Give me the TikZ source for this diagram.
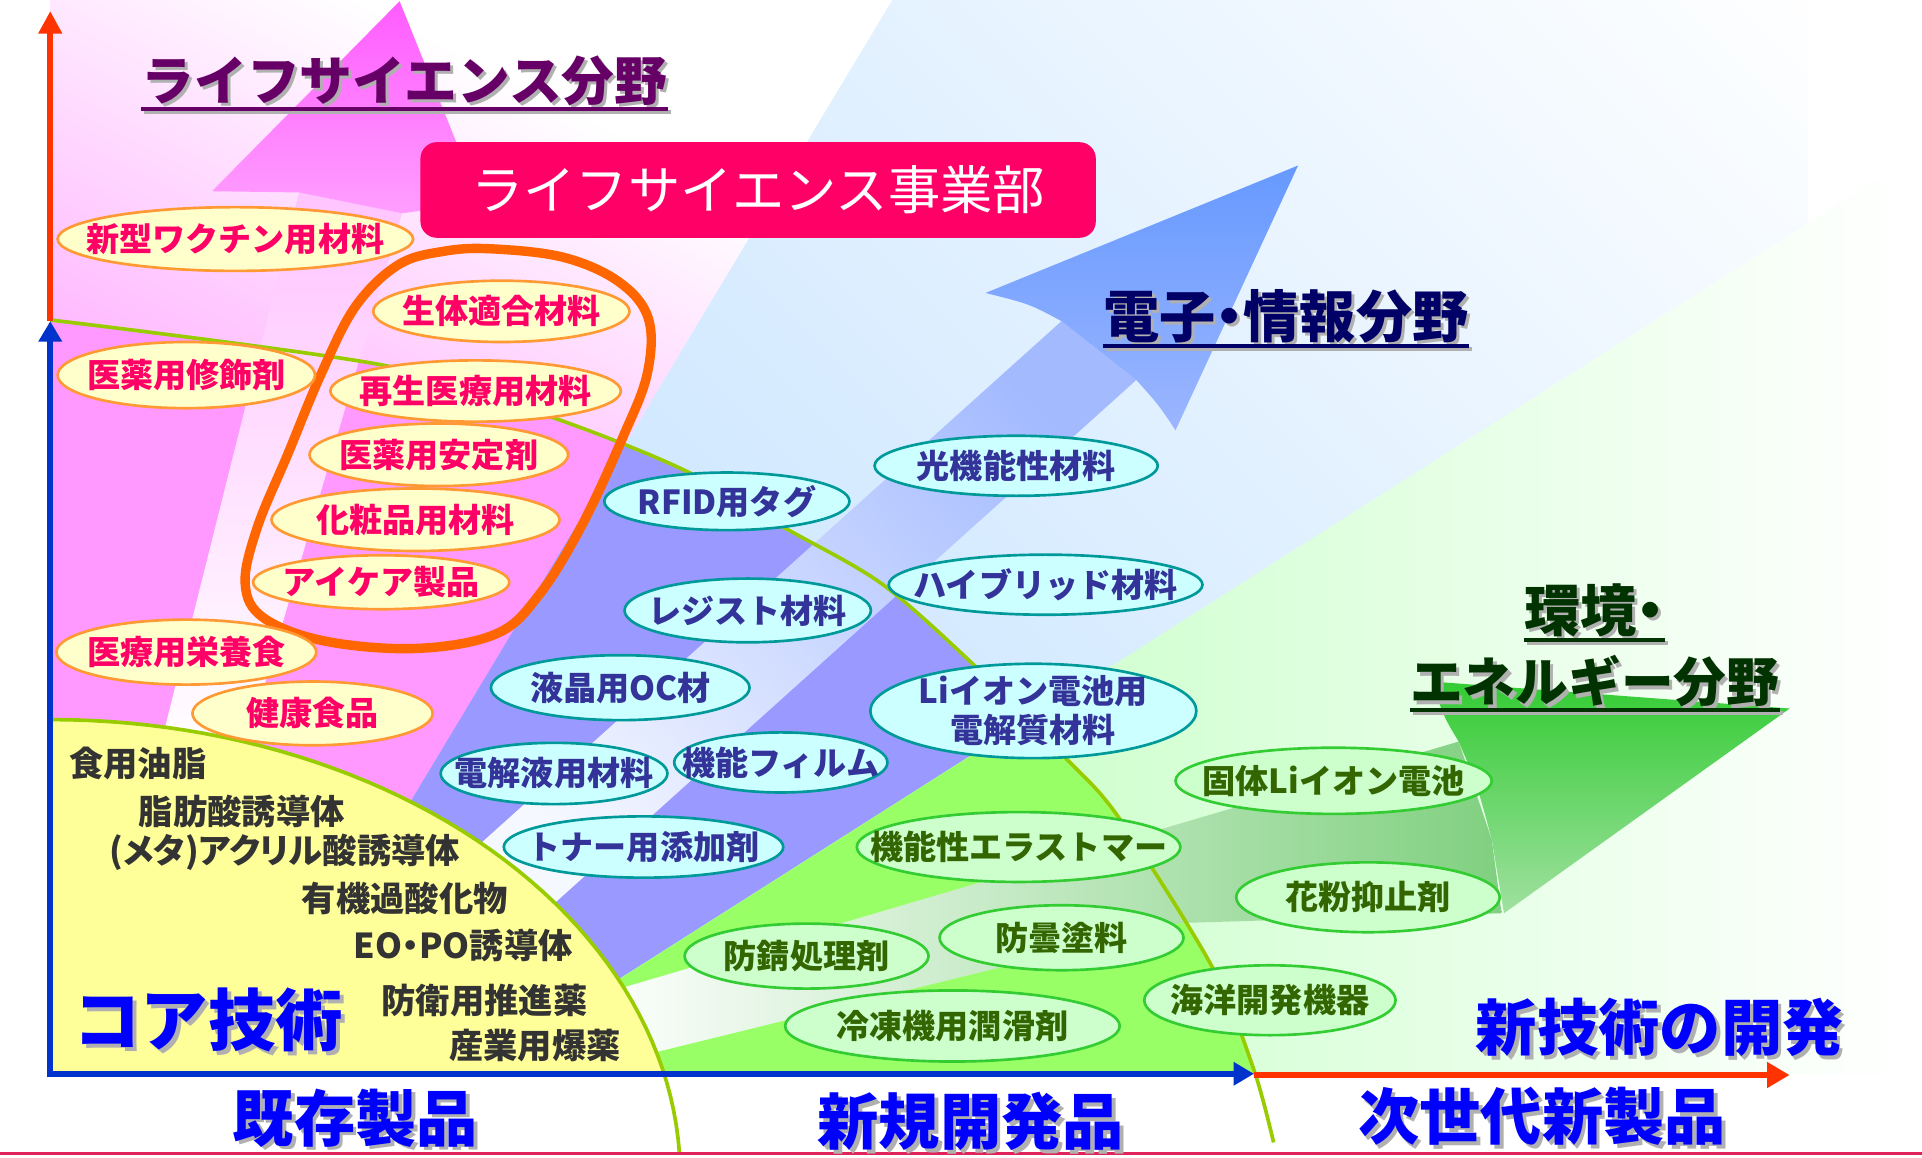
\documentclass[tikz,border=0pt]{standalone}
\usepackage{fontspec}
\setmainfont{Noto Sans CJK JP}
\newfontfamily\jpp{Noto Sans CJK JP}[RawFeature=+palt]
\usetikzlibrary{shapes.geometric,arrows.meta}
\definecolor{pinkbg}{HTML}{FFA8FF}
\definecolor{bluebg}{HTML}{CCE6FF}
\definecolor{greenbg}{HTML}{CCFFCC}
\definecolor{magz}{HTML}{FF99FF}
\definecolor{periz}{HTML}{9999FF}
\definecolor{grnz}{HTML}{99FF66}
\definecolor{corey}{HTML}{FFFF99}
\definecolor{curveg}{HTML}{99CC00}
\definecolor{axred}{HTML}{FF3300}
\definecolor{axblue}{HTML}{0033CC}
\definecolor{boxred}{HTML}{FF0066}
\definecolor{loopor}{HTML}{FF6600}
\definecolor{ptext}{HTML}{FF0066}
\definecolor{pfill}{HTML}{FFFFCC}
\definecolor{pdraw}{HTML}{FF9933}
\definecolor{btext}{HTML}{333399}
\definecolor{bfill}{HTML}{CCFFFF}
\definecolor{bdraw}{HTML}{009999}
\definecolor{gtext}{HTML}{336600}
\definecolor{gfill}{HTML}{CCFFCC}
\definecolor{gdraw}{HTML}{33CC33}
\definecolor{coretext}{HTML}{333333}
\definecolor{purp}{HTML}{660066}
\definecolor{navy}{HTML}{000066}
\definecolor{dgreen}{HTML}{003300}
\definecolor{lblue}{HTML}{0000FF}
\definecolor{shad}{HTML}{B0B0B0}
\definecolor{baseln}{HTML}{E0245A}
\definecolor{pheadtop}{HTML}{FF5CFF}
\definecolor{pheadbot}{HTML}{FF9EFF}
\definecolor{pshaft}{HTML}{FFC4FF}
\definecolor{bheadtop}{HTML}{6699FF}
\definecolor{bheadbot}{HTML}{9CB6FF}
\definecolor{bshaft}{HTML}{A3BAFF}
\definecolor{bshaftlo}{HTML}{F6F8FF}
\definecolor{gheadtop}{HTML}{33CC33}
\definecolor{gheadbot}{HTML}{A0E0A0}
\definecolor{gshaft}{HTML}{80D080}
\pgfdeclarehorizontalshading{pinkh}{100bp}{color(0bp)=(pinkbg); color(45bp)=(pinkbg); color(55bp)=(white); color(100bp)=(white)}
\pgfdeclarehorizontalshading{blueh}{100bp}{color(0bp)=(bluebg); color(45bp)=(bluebg); color(55bp)=(white); color(100bp)=(white)}
\tikzset{
  sz/.style 2 args={minimum width=#1*0.6pt, minimum height=#2*0.6pt},
  oval/.style={ellipse, inner sep=0pt, line width=1.3pt},
  pov/.style={oval, draw=pdraw, fill=pfill},
  bov/.style={oval, draw=bdraw, fill=bfill},
  gov/.style={oval, draw=gdraw, fill=gfill},
  lab/.style={inner sep=0pt, font=\bfseries\fontsize{16.2}{19.2}\selectfont},
  plab/.style={lab, text=ptext},
  blab/.style={lab, text=btext},
  glab/.style={lab, text=gtext},
  coretx/.style={inner sep=0pt, anchor=west, text=coretext, font=\bfseries\fontsize{16.8}{20}\selectfont},
  coretxp/.style={coretx, font=\jpp\bfseries\fontsize{16.8}{20}\selectfont},
  ttl/.style={inner sep=0pt, font=\bfseries\fontsize{25.8}{30}\selectfont},
  ttlp/.style={inner sep=0pt, font=\jpp\bfseries\fontsize{27.5}{30}\selectfont},
  axlab/.style={inner sep=0pt, font=\bfseries\fontsize{30}{34}\selectfont},
  axisline/.style={line width=3pt},
  bndry/.style={curveg, line width=1.8pt},
}
\begin{document}
\begin{tikzpicture}[x=0.6pt,y=-0.6pt]
\useasboundingbox (0,0) rectangle (1568,944);
\fill[white] (0,0) rectangle (1568,944);
\begin{scope}
 \clip (41,0) rectangle (1568,876);
 % light zones
 \begin{scope}
  \clip (-10,-10) -- (734,-10) -- (89,1063) -- (-10,1063) -- cycle;
  \begin{scope}[transform canvas={rotate around={63:(200,200)}}]
   \shade[shading=pinkh] (-900,-900) rectangle (1300,1300);
  \end{scope}
 \end{scope}
 \begin{scope}
  \clip (734,-10) -- (1475,-10) -- (1475,200) -- (89,1063) -- cycle;
  \begin{scope}[transform canvas={rotate around={45:(1150,400)}}]
   \shade[shading=blueh] (-1500,-2250) rectangle (3800,3050);
  \end{scope}
 \end{scope}
 \begin{scope}
  \clip (0,1120) -- (1700,39) -- (1700,1200) -- (0,1200) -- cycle;
  \fill[greenbg] (0,0) rectangle (830,1200);
  \shade[left color=greenbg, right color=white] (815,0) rectangle (1555,1200);
 \end{scope}
 % mid zones
 \begin{scope}
  \clip plot[smooth] coordinates {(41,261) (313,298) (452,341) (557,383) (639,430) (719,476) (795,543) (868,617) (912,666) (989,789) (1023,873) (1039,932)} -- (41,932) -- cycle;
  \fill[magz] (-10,-10) -- (734,-10) -- (89,1063) -- (-10,1063) -- cycle;
  \fill[periz] (734,-10) -- (1700,-10) -- (1700,39) -- (89,1063) -- cycle;
  \fill[grnz] (0,1120) -- (1700,39) -- (1700,1200) -- (0,1200) -- cycle;
 \end{scope}
 % pink arrow
 \shade[top color=pshaft, bottom color=white] (244,157) -- (328,174) -- (198,620) -- (128,620) -- cycle;
 \shade[top color=pheadtop, bottom color=pheadbot] (326,1) -- (392,165) -- (328,174) -- (244,157) -- (173,156) -- cycle;
 % blue arrow
 \shade[top color=bshaft, bottom color=bshaftlo, shading angle=-48] (866,262) -- (927,310) -- (430,757) -- (380,699) -- cycle;
 \shade[top color=bheadtop, bottom color=bheadbot] (1059,135) -- (959,351) .. controls (945,330) .. (927,310) -- (866,262) .. controls (840,248) .. (804,239) -- cycle;
 % green arrow
 \shade[left color=white, right color=gshaft] (480,814) -- (1190,605) -- (1217,685) -- (1225,745) -- (963,753) -- (500,867) -- cycle;
 \shade[top color=gheadtop, bottom color=gheadbot] (1168,556) -- (1460,578) -- (1227,745) -- (1217,685) .. controls (1205,640) .. (1190,605) .. controls (1178,585) .. cycle;
 % core
 \fill[corey] (41,876) -- plot[domain=0:77.2,samples=40] ({41+514*sin(\x)},{960-373*cos(\x)}) -- cycle;
\end{scope}
% boundary curves
\draw[bndry] plot[domain=0:87,samples=50] ({41+514*sin(\x)},{960-373*cos(\x)});
\draw[bndry] plot[smooth] coordinates {(41,261) (313,298) (452,341) (557,383) (639,430) (719,476) (795,543) (868,617) (912,666) (989,789) (1023,873) (1039,932)};
% axes
\coordinate (O) at (41,879);
\coordinate (Ymid) at (41,262);
\coordinate (Ytop) at (41,9);
\coordinate (Xst) at (38,876);
\coordinate (Xmid) at (1023,876);
\coordinate (Xrs) at (1023,877);
\coordinate (Xend) at (1460,877);
\draw[axisline, axred, -{Triangle[length=11pt,width=11pt]}] (Ymid) -- (Ytop);
\draw[axisline, axblue, -{Triangle[length=10pt,width=11pt]}] (O) -- (Ymid);
\draw[axisline, axred, -{Triangle[length=11pt,width=12pt]}] (Xrs) -- (Xend);
\draw[axisline, axblue, -{Triangle[length=10pt,width=11pt]}] (Xst) -- (Xmid);
\coordinate (BL) at (0,941);
\coordinate (BR) at (1568,941);
\draw[baseln, line width=1.3pt] (BL) -- (BR);
% life science box
\node[fill=boxred, rounded corners=8pt, sz={551}{78}, inner sep=0pt, text=white, font=\fontsize{25.6}{30}\selectfont] (lsbox) at (618.5,155) {ライフサイエンス事業部};
% orange loop
\draw[loopor, line width=4.6pt] plot[smooth cycle, tension=0.6] coordinates {(401,203) (460,210) (505,230) (529,260) (528,305) (508,357) (475,428) (440,485) (405,517) (340,529) (265,523) (215,504) (200,476) (210,430) (235,370) (262,305) (290,250) (325,216) (362,205)};
% pink ellipses
\node[pov, sz={290}{52}] (wak) at (192,195) {};
\node[plab] (wakt) at (wak) {新型ワクチン用材料};
\node[pov, sz={210}{54}] (iys) at (152,306) {};
\node[plab] (iyst) at (iys) {医薬用修飾剤};
\node[pov, sz={209}{50}] (sei) at (409,254) {};
\node[plab] (seit) at (sei) {生体適合材料};
\node[pov, sz={237}{50}] (sai) at (388,319) {};
\node[plab] (sait) at (sai) {再生医療用材料};
\node[pov, sz={211}{51}] (ian) at (358,371) {};
\node[plab] (iant) at (ian) {医薬用安定剤};
\node[pov, sz={235}{51}] (kes) at (339,424) {};
\node[plab] (kest) at (kes) {化粧品用材料};
\node[pov, sz={209}{44}] (eye) at (311,475) {};
\node[plab] (eyet) at (eye) {アイケア製品};
\node[pov, sz={212}{53}] (eiy) at (152,532) {};
\node[plab] (eiyt) at (eiy) {医療用栄養食};
\node[pov, sz={196}{52}] (ken) at (255,582) {};
\node[plab] (kent) at (ken) {健康食品};
% blue ellipses
\node[bov, sz={200}{47}] (rfid) at (593,409) {};
\node[blab] (rfidt) at (rfid) {RFID用タグ};
\node[bov, sz={231}{49}] (hik) at (829,380) {};
\node[blab] (hikt) at (hik) {光機能性材料};
\node[bov, sz={256}{49}] (hyb) at (853,477) {};
\node[blab] (hybt) at (hyb) {ハイブリッド材料};
\node[bov, sz={201}{52}] (reg) at (610,498) {};
\node[blab] (regt) at (reg) {レジスト材料};
\node[bov, sz={211}{53}] (eki) at (506,561) {};
\node[blab] (ekit) at (eki) {液晶用OC材};
\node[bov, sz={266}{77}] (li) at (843,580) {};
\node[blab, align=center] (lit) at (li) {Liイオン電池用\\電解質材料};
\node[bov, sz={185}{50}] (den) at (452,631) {};
\node[blab] (dent) at (den) {電解液用材料};
\node[bov, sz={174}{49}] (kif) at (637,622) {};
\node[blab] (kift) at (kif) {機能フィルム};
\node[bov, sz={228}{50}] (ton) at (525,691) {};
\node[blab] (tont) at (ton) {トナー用添加剤};
% green ellipses
\node[gov, sz={258}{54}] (kot) at (1088,637) {};
\node[glab] (kott) at (kot) {固体Liイオン電池};
\node[gov, sz={264}{57}] (ela) at (831,691) {};
\node[glab] (elat) at (ela) {機能性エラストマー};
\node[gov, sz={215}{57}] (kaf) at (1116,732) {};
\node[glab] (kaft) at (kaf) {花粉抑止剤};
\node[gov, sz={199}{53}] (bos) at (658,780) {};
\node[glab] (bost) at (bos) {防錆処理剤};
\node[gov, sz={199}{53}] (bod) at (866,765) {};
\node[glab] (bodt) at (bod) {防曇塗料};
\node[gov, sz={205}{57}] (kai) at (1036,816) {};
\node[glab] (kait) at (kai) {海洋開発機器};
\node[gov, sz={273}{58}] (rei) at (777,837) {};
\node[glab] (reit) at (rei) {冷凍機用潤滑剤};
% core texts
\node[coretx] (c1) at (56,623) {食用油脂};
\node[coretx] (c2) at (113,662) {脂肪酸誘導体};
\node[coretxp] (c3) at (89,695) {(メタ)アクリル酸誘導体};
\node[coretx] (c4) at (246,733) {有機過酸化物};
\node[coretxp] (c5) at (288,771) {EO・PO誘導体};
\node[coretx] (c6) at (311,816) {防衛用推進薬};
\node[coretx] (c7) at (366,853) {産業用爆薬};
\node[inner sep=0pt, text=shad, font=\bfseries\fontsize{33}{36}\selectfont] (coreS) at (173,835) {コア技術};
\node[inner sep=0pt, text=lblue, font=\bfseries\fontsize{33}{36}\selectfont] (core) at (170,832) {コア技術};
% titles
\node[ttl, text=shad] (tlsS) at (332.5,68.5) {ライフサイエンス分野};
\draw[shad, line width=1.8pt] ([yshift=-1.2pt]tlsS.south west) -- ([yshift=-1.2pt]tlsS.south east);
\node[ttl, text=purp] (tls) at (330,66) {ライフサイエンス分野};
\draw[purp, line width=1.8pt] ([yshift=-1.2pt]tls.south west) -- ([yshift=-1.2pt]tls.south east);
\node[ttlp, text=shad] (tdeS) at (1051.5,260.5) {電子・情報分野};
\draw[shad, line width=1.8pt] ([yshift=-1.2pt]tdeS.south west) -- ([yshift=-1.2pt]tdeS.south east);
\node[ttlp, text=navy] (tde) at (1049,258) {電子・情報分野};
\draw[navy, line width=1.8pt] ([yshift=-1.2pt]tde.south west) -- ([yshift=-1.2pt]tde.south east);
\node[ttlp, text=shad] (tk1S) at (1303.5,500.5) {環境・};
\draw[shad, line width=1.8pt] ([yshift=-1.2pt]tk1S.south west) -- ([yshift=-1.2pt]tk1S.south east);
\node[ttlp, text=dgreen] (tk1) at (1301,498) {環境・};
\draw[dgreen, line width=1.8pt] ([yshift=-1.2pt]tk1.south west) -- ([yshift=-1.2pt]tk1.south east);
\node[ttl, text=shad] (tk2S) at (1303.5,558.5) {エネルギー分野};
\draw[shad, line width=1.8pt] ([yshift=-1.2pt]tk2S.south west) -- ([yshift=-1.2pt]tk2S.south east);
\node[ttl, text=dgreen] (tk2) at (1301,556) {エネルギー分野};
\draw[dgreen, line width=1.8pt] ([yshift=-1.2pt]tk2.south west) -- ([yshift=-1.2pt]tk2.south east);
% axis labels
\node[axlab, text=shad] (a1S) at (293,915) {既存製品};
\node[axlab, text=lblue] (a1) at (290,912) {既存製品};
\node[axlab, text=shad] (a2S) at (795,918) {新規開発品};
\node[axlab, text=lblue] (a2) at (792,915) {新規開発品};
\node[axlab, text=shad] (a3S) at (1261,914) {次世代新製品};
\node[axlab, text=lblue] (a3) at (1258,911) {次世代新製品};
\node[axlab, text=shad] (a4S) at (1357,841) {新技術の開発};
\node[axlab, text=lblue] (a4) at (1354,838) {新技術の開発};
\end{tikzpicture}
\end{document}
